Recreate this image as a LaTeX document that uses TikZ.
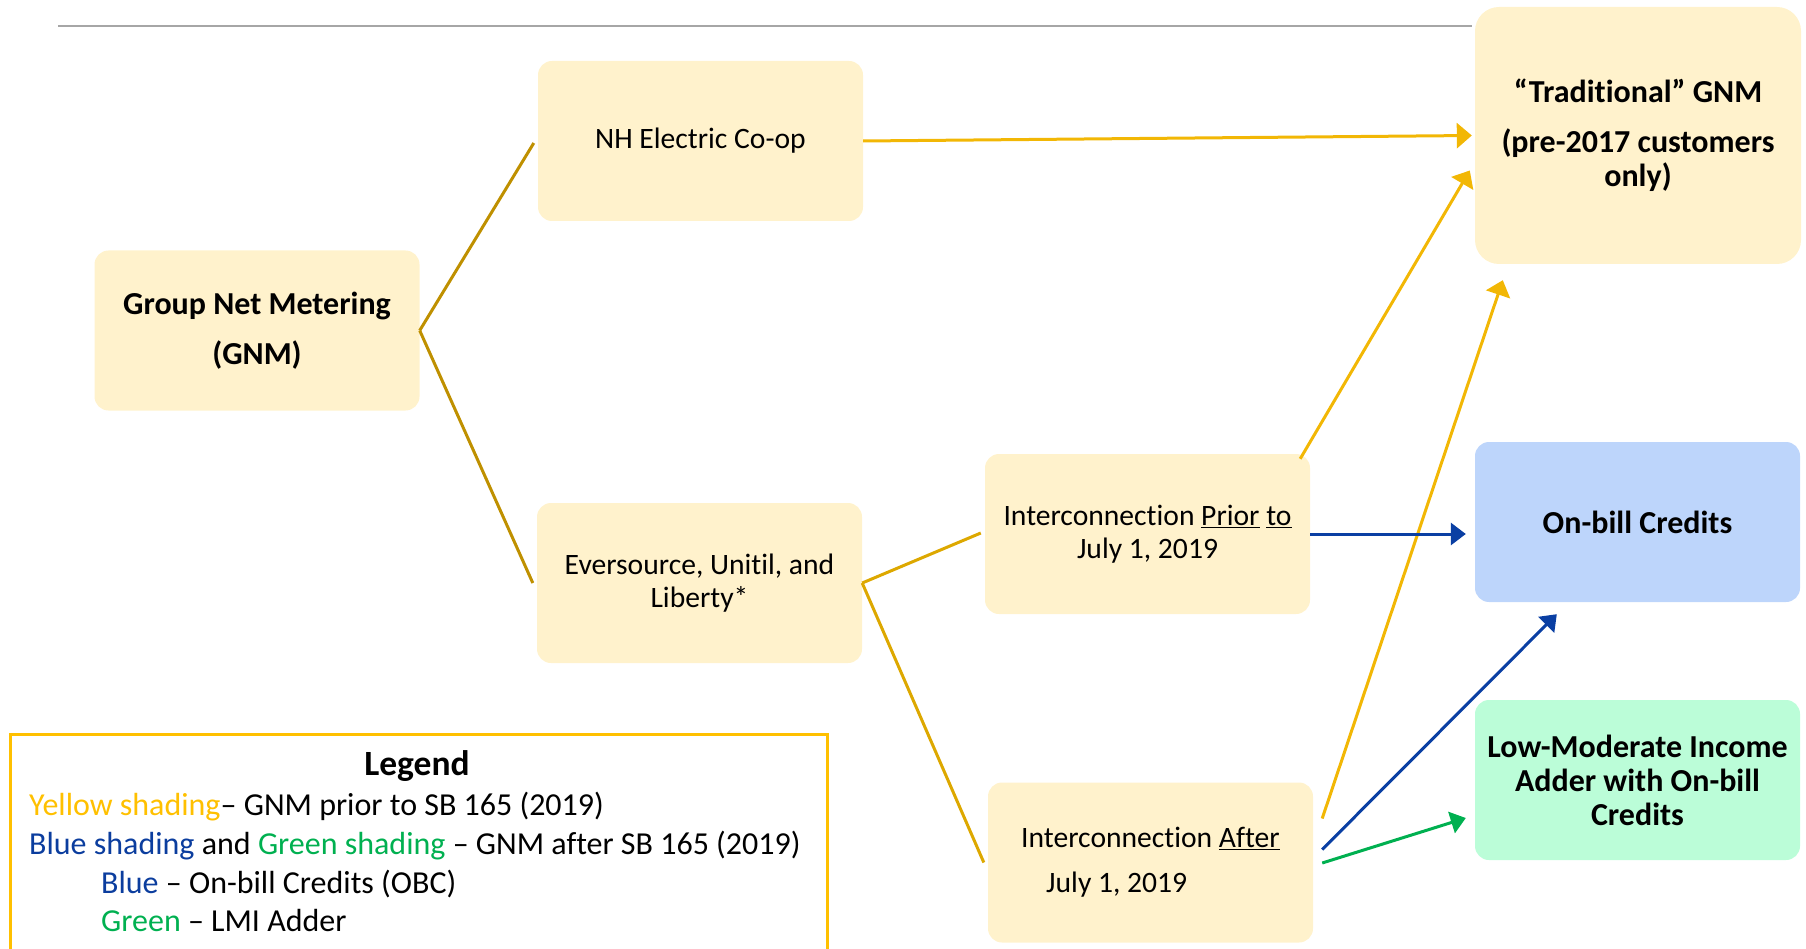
\documentclass[tikz,border=0pt]{standalone}
\usepackage{fontspec}
\setmainfont{Carlito}[Ligatures=NoCommon]
\usetikzlibrary{arrows.meta,calc}
\definecolor{boxyellow}{HTML}{FFF2CC}
\definecolor{boxblue}{HTML}{BDD5FB}
\definecolor{boxgreen}{HTML}{BBFDD8}
\definecolor{golddark}{HTML}{BF9000}
\definecolor{goldmid}{HTML}{DDA800}
\definecolor{arrowyellow}{HTML}{F2B705}
\definecolor{arrowblue}{HTML}{0A3FA3}
\definecolor{arrowgreen}{HTML}{00B050}
\definecolor{legyellow}{HTML}{FFC000}
\definecolor{legblue}{HTML}{0B3D9E}
\definecolor{leggreen}{HTML}{00B050}
\definecolor{topgray}{HTML}{A6A6A6}
\begin{document}
\begin{tikzpicture}[x=1pt,y=-1pt,
  box/.style={rectangle, rounded corners=14pt, fill=boxyellow, minimum width=325pt, minimum height=160pt, align=center, inner sep=0pt, font=\fontsize{29.6}{33}\selectfont},
  boldbox/.style={box, font=\fontsize{32}{34}\selectfont\bfseries},
  goldline/.style={draw=golddark, line width=3pt},
  everline/.style={draw=goldmid, line width=3pt},
  yarrow/.style={draw=arrowyellow, fill=arrowyellow, line width=3pt, -{Triangle[length=15pt,width=25pt]}},
  barrow/.style={draw=arrowblue, fill=arrowblue, line width=3pt, -{Triangle[length=15pt,width=22pt]}},
  garrow/.style={draw=arrowgreen, fill=arrowgreen, line width=3pt, -{Triangle[length=15pt,width=22pt]}},
  legline/.style={anchor=base west, inner sep=0pt, font=\fontsize{32}{36}\selectfont}
]
\useasboundingbox (0,0) rectangle (1806,949);
\clip (0,0) rectangle (1806,949);

\draw[topgray, line width=2pt] (58,26) -- (1472,26);

\node[boldbox] (gnm) at (257,330.5) {Group Net Metering\\[16pt](GNM)};
\node[box] (nh) at (700.5,141) {NH Electric Co-op};
\node[box] (ever) at (699.5,583) {Eversource, Unitil, and\\Liberty*};
\node[box] (prior) at (1147.5,534) {Interconnection \underline{Prior} \underline{to}\\July 1, 2019};
\node[box, align=left] (after) at (1150.5,862.5) {Interconnection \underline{After}\\[12pt]\hspace*{25pt}July 1, 2019};
\node[boldbox, minimum height=257pt, minimum width=326pt, rounded corners=24pt] (trad) at (1638,135.5) {“Traditional” GNM\\[16pt](pre-2017 customers\\only)};
\node[boldbox, fill=boxblue] (onbill) at (1637.5,522) {On-bill Credits};
\node[boldbox, fill=boxgreen] (lmi) at (1637.5,780) {Low-Moderate Income\\Adder with On-bill\\Credits};

\node[draw=legyellow, line width=3pt, minimum width=817pt, minimum height=300pt, anchor=north west, inner sep=0pt] (legbox) at (9,733) {};
\node[font=\fontsize{35.5}{40}\selectfont\bfseries] (legtitle) at (417,766) {Legend};
\node[legline] (leg1) at (29,815) {\textcolor{legyellow}{Yellow shading}– GNM prior to SB 165 (2019)};
\node[legline] (leg2) at (29,854) {\textcolor{legblue}{Blue shading} and \textcolor{leggreen}{Green shading} – GNM after SB 165 (2019)};
\node[legline] (leg3) at (101,893) {\textcolor{legblue}{Blue} – On-bill Credits (OBC)};
\node[legline] (leg4) at (101,931) {\textcolor{leggreen}{Green} – LMI Adder};

\draw[goldline] (gnm.east) -- ($(nh.west)+(-4,2)$);
\draw[goldline] (gnm.east) -- ($(ever.west)+(-4,0)$);
\draw[everline] (ever.east) -- ($(prior.west)+(-4,-1)$);
\draw[everline] (ever.east) -- ($(after.west)+(-4,0)$);
\draw[yarrow] (nh.east) -- ($(trad.west)+(-3,0)$);
\draw[yarrow] ($(prior.north east)+(-10,5)$) -- ($(trad.west)+(-5,35)$);
\draw[yarrow] ($(after.east)+(9,-44)$) -- ($(trad.south west)+(28,16)$);
\draw[barrow] (prior.east) -- ($(onbill.west)+(-9,12)$);
\draw[barrow] ($(after.east)+(9,-13)$) -- ($(onbill.south west)+(82,12)$);
\draw[garrow] ($(after.east)+(9,0.5)$) -- ($(lmi.west)+(-9,38)$);
\end{tikzpicture}
\end{document}
